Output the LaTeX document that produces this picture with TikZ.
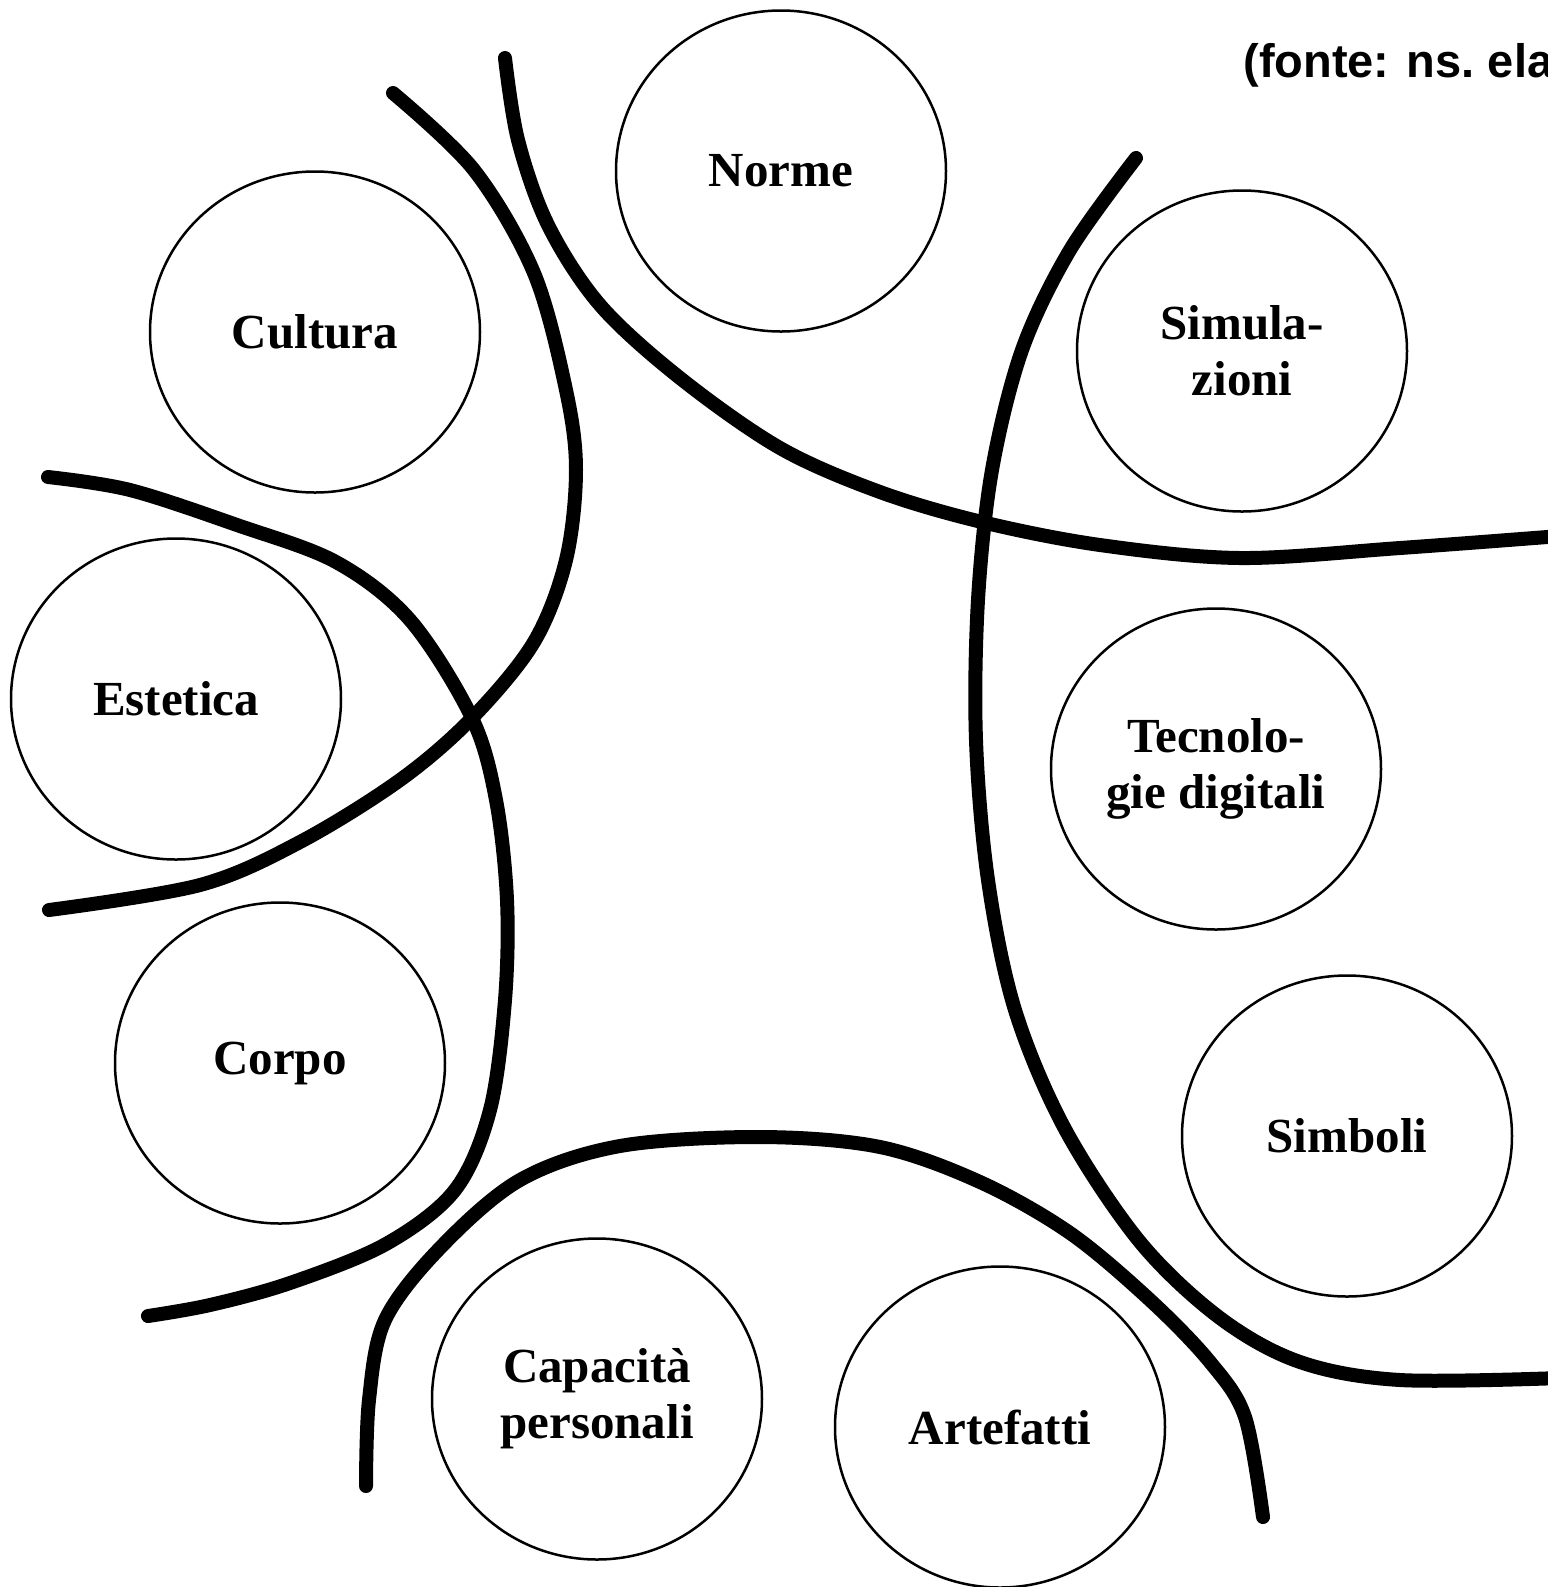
\documentclass[tikz,border=0pt]{standalone}
\usepackage{fontspec}
\setmainfont{Liberation Serif}
\newfontfamily\srcfont{Liberation Sans}
\usetikzlibrary{shapes.geometric}
\begin{document}
\begin{tikzpicture}[x=0.5pt,y=-0.5pt,
  topic/.style={draw=black, line width=1.25pt, ellipse, minimum width=165pt, minimum height=160.5pt, inner sep=0pt, align=center, font=\fontsize{24.5}{28}\selectfont\bfseries},
  band/.style={draw=black, line width=7pt, line cap=round, line join=round}]
\useasboundingbox (0,0) rectangle (1548,1587);
\clip (0,0) rectangle (1548,1587);
\fill[white] (0,0) rectangle (1548,1587);

\node[topic] (norme) at (781,171) {Norme};
\node[topic] (cultura) at (315,332) {Cultura};
\node[topic] (simul) at (1242,351) {Simula-\\zioni};
\node[topic] (estetica) at (176,699) {Estetica};
\node[topic] (tecno) at (1216,769) {Tecnolo-\\gie digitali};
\node[topic] (corpo) at (280,1063) {Corpo};
\node[topic] (simboli) at (1347,1136) {Simboli};
\node[topic] (capacita) at (597,1399) {Capacità\\personali};
\node[topic] (artefatti) at (1000,1427) {Artefatti};

\node[anchor=base west, inner sep=0pt, font=\srcfont\bfseries\fontsize{23.5}{28}\selectfont] (fonte) at (1243,77) {(fonte: ns.\ elaborazione)};

% curve A
\draw[band] plot[smooth, tension=0.55] coordinates {(393,93) (474,170) (534,273) (566,390) (576,470) (566,560) (534,642) (472,718) (400,780) (300,842) (200,885) (49,910)};
% curve B
\draw[band] plot[smooth, tension=0.55] coordinates {(48,477) (130,490) (237,525) (336,562) (410,620) (472,718) (496,800) (507,900) (505,1000) (490,1110) (455,1190) (386,1244) (290,1283) (210,1305) (148,1316)};
% curve C
\draw[band] plot[smooth, tension=0.55] coordinates {(505,58) (518,140) (548,225) (600,305) (680,378) (780,448) (880,492) (982,522) (1100,545) (1240,558) (1400,548) (1560,536)};
% curve D
\draw[band] plot[smooth, tension=0.55] coordinates {(1136,158) (1070,250) (1022,350) (992,470) (978,600) (976,740) (988,880) (1015,1010) (1065,1129) (1140,1242) (1220,1318) (1300,1362) (1400,1380) (1560,1378)};
% curve E
\draw[band] plot[smooth, tension=0.55] coordinates {(366,1486) (369,1400) (385,1320) (440,1248) (520,1180) (620,1146) (760,1137) (880,1147) (980,1182) (1070,1233) (1150,1300) (1210,1362) (1245,1417) (1263,1517)};
\end{tikzpicture}
\end{document}
